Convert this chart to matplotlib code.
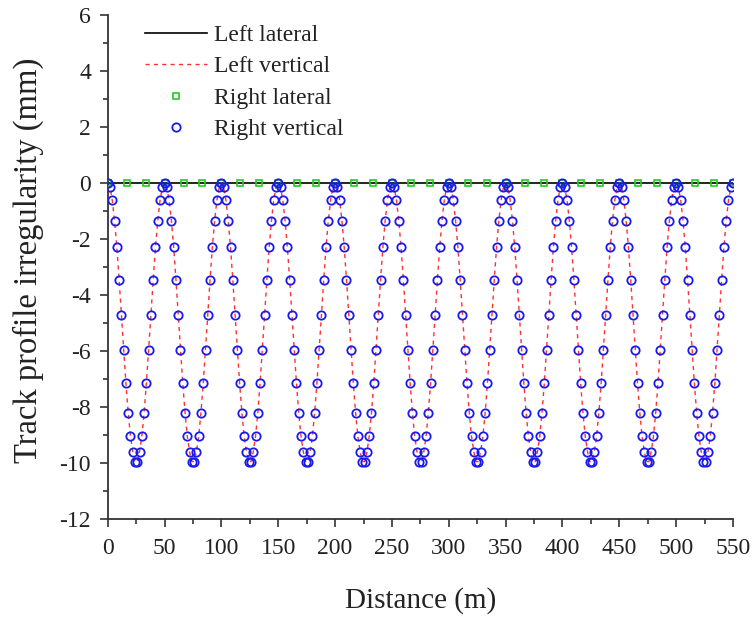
import numpy as np
import matplotlib
matplotlib.use('Agg')
import matplotlib.pyplot as plt
from matplotlib.ticker import MultipleLocator

plt.rcParams['font.family'] = ['Liberation Serif', 'DejaVu Serif']
plt.rcParams['axes.unicode_minus'] = False

vert_cycle = [0.0, -0.16, -0.62, -1.35, -2.3, -3.45, -4.7, -5.95, -7.15, -8.2,
              -9.05, -9.6, -9.95, -9.95, -9.6, -9.05, -8.2, -7.15, -5.95, -4.7,
              -3.45, -2.3, -1.35, -0.62, -0.16]
n_cycles = 11

distance = np.arange(0, 551, 2)
vertical = np.append(np.tile(vert_cycle, n_cycles), 0.0)
lateral = np.zeros(len(distance))

lat_marker_dist = np.linspace(0, 550, 34)
lat_marker_vals = np.zeros(len(lat_marker_dist))

fig = plt.figure(figsize=(7.56, 6.19), dpi=100)
ax = fig.add_axes([0.1425, 0.1616, 0.8271, 0.8142])

ax.plot(distance, lateral, color='black', lw=1.2, label='Left lateral', zorder=2)
ax.plot(distance, vertical, color='#ff3030', lw=1.0, ls=(0, (3, 3)),
        label='Left vertical', zorder=3)
ax.plot(lat_marker_dist, lat_marker_vals, ls='none', marker='s', ms=4,
        mfc='none', mec='#22cc22', mew=1.2, label='Right lateral', zorder=4)
ax.plot(distance, vertical, ls='none', marker='o', ms=6, mfc='none',
        mec='#1a1aee', mew=1.3, label='Right vertical', zorder=5)

ax.set_xlim(0, 550)
ax.set_ylim(-12, 6)
ax.xaxis.set_major_locator(MultipleLocator(50))
ax.xaxis.set_minor_locator(MultipleLocator(25))
ax.yaxis.set_major_locator(MultipleLocator(2))
ax.yaxis.set_minor_locator(MultipleLocator(1))
ax.tick_params(which='major', direction='out', length=6, width=1.2,
               labelsize=17, pad=6, colors='#333333', labelcolor='#222222')
ax.tick_params(axis='x', which='major', pad=8)
ax.tick_params(which='minor', direction='out', length=3.5, width=1.2,
               colors='#333333')

for side in ['top', 'right']:
    ax.spines[side].set_visible(False)
for side in ['left', 'bottom']:
    ax.spines[side].set_linewidth(1.3)
    ax.spines[side].set_color('#333333')

ax.set_xlabel('Distance (m)', fontsize=21, labelpad=20, color='#222222')
ax.set_ylabel('Track profile irregularity (mm)', fontsize=23.5, color='#222222')
ax.yaxis.set_label_coords(-0.102, 0.514)

ax.legend(loc='upper left', frameon=False, fontsize=17, handlelength=2.6,
          handletextpad=0.3, labelspacing=0.42, borderaxespad=0.0,
          bbox_to_anchor=(0.045, 1.0), labelcolor='#222222')

fig.savefig('out.png', dpi=100)
